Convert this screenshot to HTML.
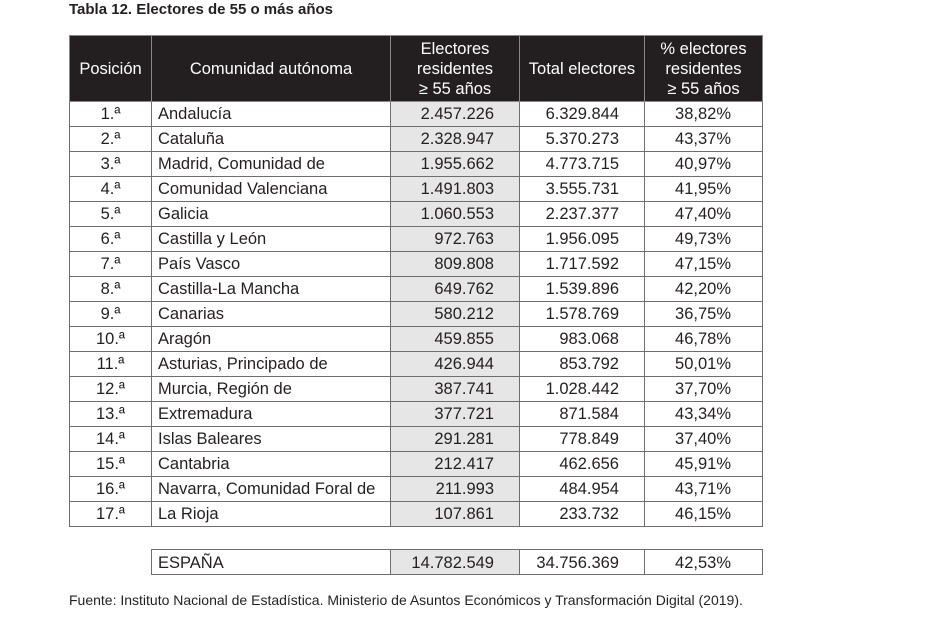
<!DOCTYPE html>
<html><head><meta charset="utf-8"><style>
body{margin:0;width:928px;height:621px;background:#fff;position:relative;overflow:hidden;font-family:"Liberation Sans Narrow","Liberation Sans",sans-serif;color:#231f20}
.title{position:absolute;left:69px;top:1px;font-size:15px;font-weight:bold;font-family:"Liberation Sans Narrow","Liberation Sans",sans-serif}
table{position:absolute;border-collapse:collapse;table-layout:fixed;font-size:16.5px}
td,th{border:1.5px solid #6e6e6e;padding:0 6px;height:24px;line-height:24px;white-space:nowrap;overflow:hidden}
th{background:#231f20;color:#fff;font-weight:normal;height:65px;line-height:20px;border-color:#888;text-align:center}
.c{text-align:center}.r{text-align:right;padding-right:25px}.p{text-align:right;padding-right:31px}.g{background:#e6e6e6}
.low td{line-height:22px;height:22px;padding-top:2px}
.foot{position:absolute;left:69px;top:592px;font-size:14px}
</style></head><body>
<div class="title">Tabla 12. Electores de 55 o más años</div>
<table style="left:69px;top:35px;width:693px">
<colgroup><col style="width:82px"><col style="width:239px"><col style="width:129px"><col style="width:125px"><col style="width:118px"></colgroup>
<tr><th>Posición</th><th>Comunidad autónoma</th><th>Electores<br>residentes<br>≥ 55 años</th><th>Total electores</th><th>% electores<br>residentes<br>≥ 55 años</th></tr>
<tr><td class="c">1.ª</td><td>Andalucía</td><td class="r g">2.457.226</td><td class="r">6.329.844</td><td class="p">38,82%</td></tr>
<tr><td class="c">2.ª</td><td>Cataluña</td><td class="r g">2.328.947</td><td class="r">5.370.273</td><td class="p">43,37%</td></tr>
<tr><td class="c">3.ª</td><td>Madrid, Comunidad de</td><td class="r g">1.955.662</td><td class="r">4.773.715</td><td class="p">40,97%</td></tr>
<tr><td class="c">4.ª</td><td>Comunidad Valenciana</td><td class="r g">1.491.803</td><td class="r">3.555.731</td><td class="p">41,95%</td></tr>
<tr><td class="c">5.ª</td><td>Galicia</td><td class="r g">1.060.553</td><td class="r">2.237.377</td><td class="p">47,40%</td></tr>
<tr><td class="c">6.ª</td><td>Castilla y León</td><td class="r g">972.763</td><td class="r">1.956.095</td><td class="p">49,73%</td></tr>
<tr><td class="c">7.ª</td><td>País Vasco</td><td class="r g">809.808</td><td class="r">1.717.592</td><td class="p">47,15%</td></tr>
<tr><td class="c">8.ª</td><td>Castilla-La Mancha</td><td class="r g">649.762</td><td class="r">1.539.896</td><td class="p">42,20%</td></tr>
<tr><td class="c">9.ª</td><td>Canarias</td><td class="r g">580.212</td><td class="r">1.578.769</td><td class="p">36,75%</td></tr>
<tr><td class="c">10.ª</td><td>Aragón</td><td class="r g">459.855</td><td class="r">983.068</td><td class="p">46,78%</td></tr>
<tr><td class="c">11.ª</td><td>Asturias, Principado de</td><td class="r g">426.944</td><td class="r">853.792</td><td class="p">50,01%</td></tr>
<tr><td class="c">12.ª</td><td>Murcia, Región de</td><td class="r g">387.741</td><td class="r">1.028.442</td><td class="p">37,70%</td></tr>
<tr><td class="c">13.ª</td><td>Extremadura</td><td class="r g">377.721</td><td class="r">871.584</td><td class="p">43,34%</td></tr>
<tr><td class="c">14.ª</td><td>Islas Baleares</td><td class="r g">291.281</td><td class="r">778.849</td><td class="p">37,40%</td></tr>
<tr><td class="c">15.ª</td><td>Cantabria</td><td class="r g">212.417</td><td class="r">462.656</td><td class="p">45,91%</td></tr>
<tr><td class="c">16.ª</td><td>Navarra, Comunidad Foral de</td><td class="r g">211.993</td><td class="r">484.954</td><td class="p">43,71%</td></tr>
<tr><td class="c">17.ª</td><td>La Rioja</td><td class="r g">107.861</td><td class="r">233.732</td><td class="p">46,15%</td></tr>
</table>
<table style="left:151px;top:549px;width:611px">
<colgroup><col style="width:239px"><col style="width:129px"><col style="width:125px"><col style="width:118px"></colgroup>
<tr class="low"><td>ESPAÑA</td><td class="r g">14.782.549</td><td class="r">34.756.369</td><td class="p">42,53%</td></tr>
</table>
<div class="foot">Fuente: Instituto Nacional de Estadística. Ministerio de Asuntos Económicos y Transformación Digital (2019).</div>
</body></html>
